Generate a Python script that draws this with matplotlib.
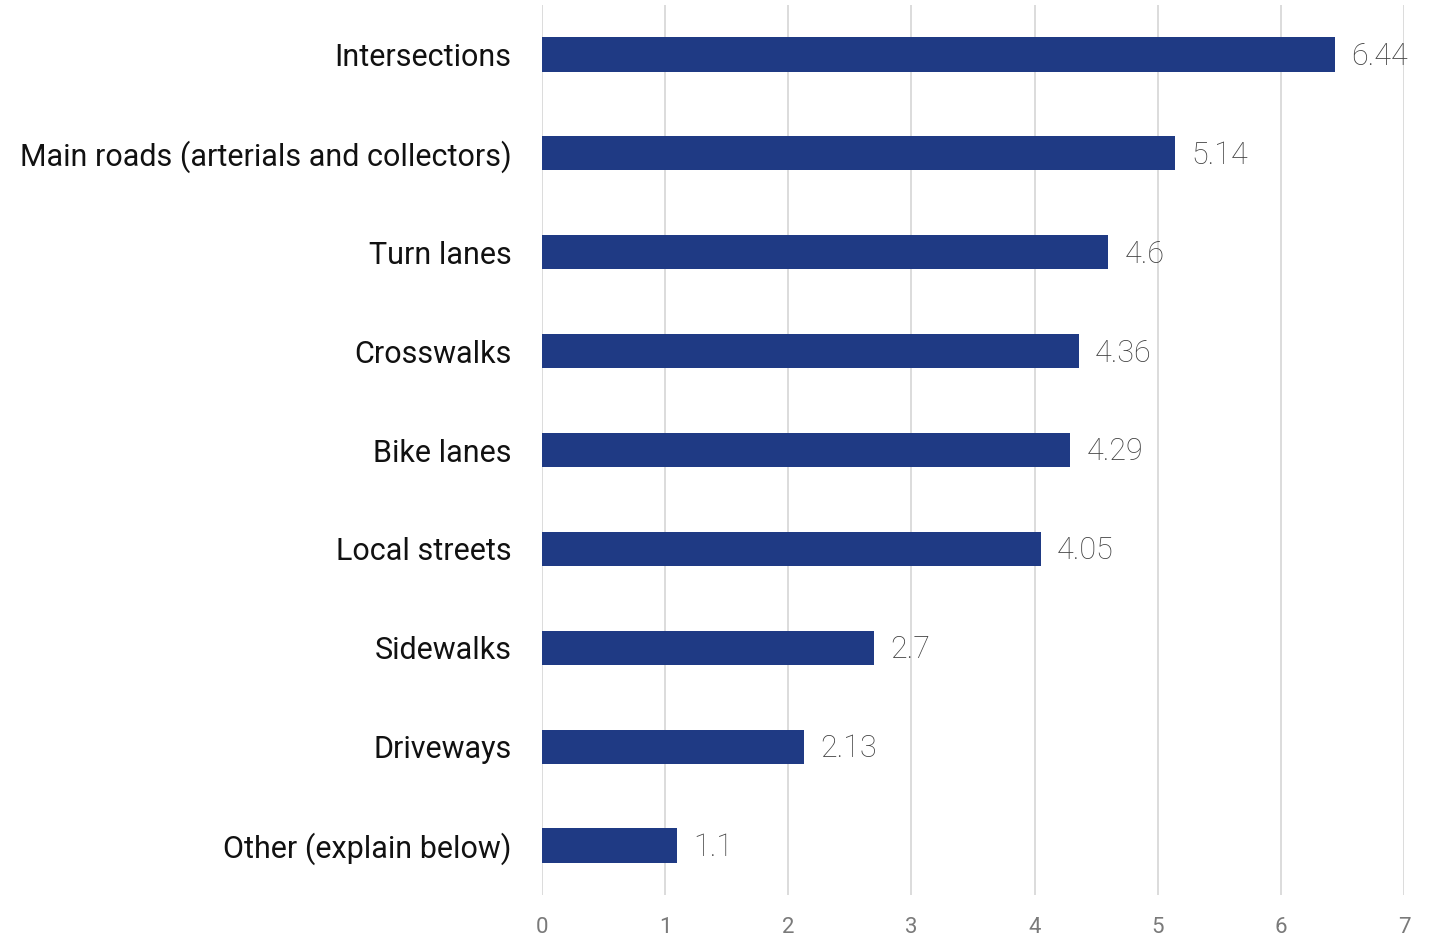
import matplotlib.pyplot as plt

categories = ["Intersections", "Main roads (arterials and collectors)", "Turn lanes",
              "Crosswalks", "Bike lanes", "Local streets", "Sidewalks", "Driveways",
              "Other (explain below)"]
values = [6.44, 5.14, 4.6, 4.36, 4.29, 4.05, 2.7, 2.13, 1.1]
value_labels = ["6.44", "5.14", "4.6", "4.36", "4.29", "4.05", "2.7", "2.13", "1.1"]
x_ticks = [0, 1, 2, 3, 4, 5, 6, 7]

plt.rcParams['font.family'] = ['Roboto', 'DejaVu Sans']

fig = plt.figure(figsize=(14.37, 9.41), dpi=100)
ax = fig.add_axes([542 / 1437, 1 - 895 / 941, (1404 - 542) / 1437, 890 / 941])

y = list(range(len(categories)))
ax.barh(y, values, height=0.345, color="#1f3a84", zorder=3)
for yi, v, lab in zip(y, values, value_labels):
    ax.text(v + 0.13, yi + 0.02, lab, va="center", ha="left", fontsize=22, color="#404040",
            fontweight="light", zorder=4)

ax.set_xlim(0, 7)
ax.set_ylim(len(categories) - 0.5, -0.5)
ax.set_yticks(y)
ax.set_yticklabels(categories, fontsize=22, color="#111111")
ax.set_xticks(x_ticks)
ax.set_xticklabels([str(t) for t in x_ticks], fontsize=16, color="#7a7a7a")
ax.tick_params(axis="y", length=0, pad=22)
ax.tick_params(axis="x", length=0, pad=16)
ax.grid(axis="x", color="#d9d9d9", linewidth=1.3, zorder=0)
for s in ax.spines.values():
    s.set_visible(False)

fig.savefig("out.png", dpi=100)
